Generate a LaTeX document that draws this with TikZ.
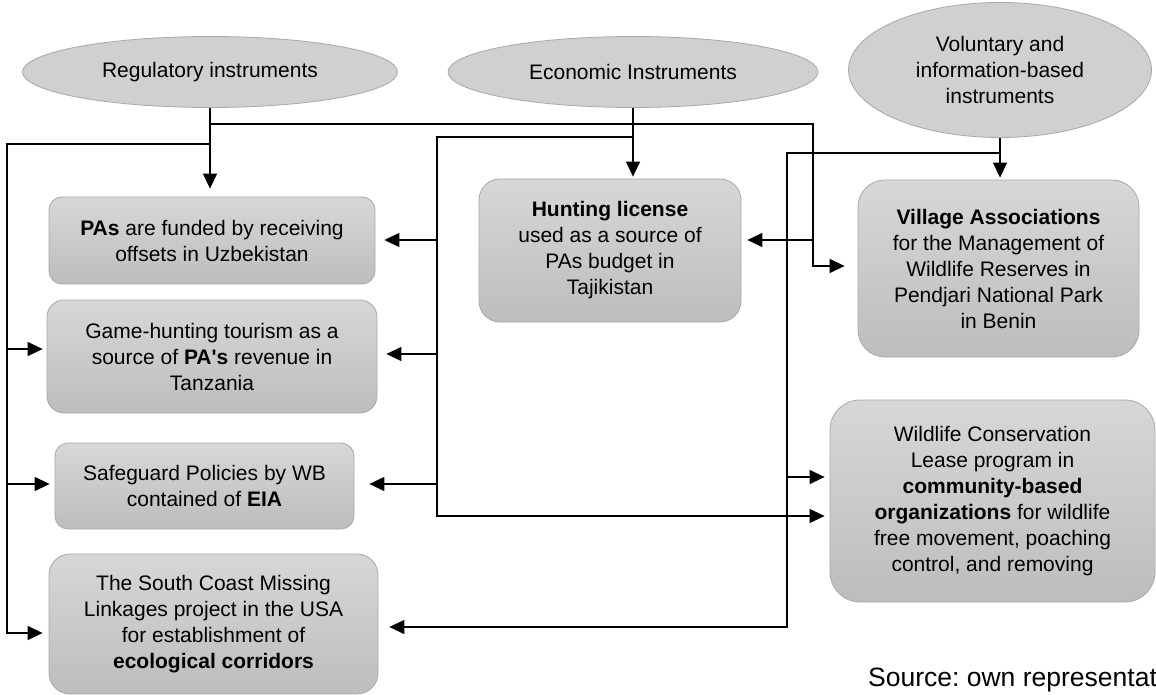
\documentclass[tikz,border=0pt]{standalone}
\usepackage{fontspec}
\setmainfont{Liberation Sans}
\usetikzlibrary{shapes.geometric,arrows.meta}
\definecolor{boxtop}{HTML}{D7D7D7}
\definecolor{boxbot}{HTML}{BDBDBD}
\definecolor{edgegray}{HTML}{A8A8A8}
\definecolor{ovalfill}{HTML}{D0D0D0}
\frenchspacing
% straight apostrophe glyph, bypassing the TeX quote mapping
\newcommand{\straightq}{\XeTeXglyph\XeTeXcharglyph"27\relax}
\begin{document}
\begin{tikzpicture}[x=1pt,y=-1pt,
  txt/.style={font=\fontsize{21}{26}\selectfont},
  oval/.style={ellipse, draw=edgegray, line width=0.8pt, fill=ovalfill, inner sep=0pt, align=center, txt},
  card/.style={draw=edgegray, line width=0.8pt, top color=boxtop, bottom color=boxbot, inner sep=0pt, align=center, txt},
  link/.style={line width=1.3pt},
  arr/.style={link, -{Triangle[length=15pt,width=14pt]}}]
\useasboundingbox (0,0) rectangle (1156,695);

% instrument categories
\node[oval, minimum width=375pt, minimum height=71pt] (reg) at (210,72) {Regulatory instruments};
\node[oval, minimum width=370pt, minimum height=71pt] (eco) at (633,72) {Economic Instruments};
\node[oval, minimum width=303pt, minimum height=135pt] (vol) at (1000,70) {Voluntary and\\information-based\\instruments};

% case examples
\node[card, rounded corners=13pt, minimum width=326pt, minimum height=87pt] (pas) at (212,240.5)
  {\textbf{PAs} are funded by receiving\\offsets in Uzbekistan};
\node[card, rounded corners=17pt, minimum width=330pt, minimum height=113pt] (game) at (212,356.5)
  {Game-hunting tourism as a\\source of \textbf{PA\straightq s} revenue in\\Tanzania};
\node[card, rounded corners=13pt, minimum width=299pt, minimum height=86pt] (safe) at (204.5,486)
  {Safeguard Policies by WB\\contained of \textbf{EIA}};
\node[card, rounded corners=21pt, minimum width=329pt, minimum height=140pt] (south) at (213.5,624)
  {The South Coast Missing\\Linkages project in the USA\\for establishment of\\\textbf{ecological corridors}};
\node[card, rounded corners=21pt, minimum width=262pt, minimum height=143pt] (hunt) at (610,250.5)
  {\textbf{Hunting license}\\used as a source of\\PAs budget in\\Tajikistan};
\node[card, rounded corners=27pt, minimum width=281pt, minimum height=177pt] (village) at (998.5,268.5)
  {\textbf{Village Associations}\\for the Management of\\Wildlife Reserves in\\Pendjari National Park\\in Benin};
\node[card, rounded corners=30pt, minimum width=325pt, minimum height=202pt] (wild) at (992.5,501)
  {Wildlife Conservation\\Lease program in\\\textbf{community-based}\\\textbf{organizations} for wildlife\\free movement, poaching\\control, and removing};

% regulatory links
\draw[arr, shorten >=8pt] (reg.south) -- (reg.south |- pas.north);
\coordinate (rj) at (210,124);
\coordinate (rk) at (813,124);
\coordinate (rv) at (813,266);
\draw[arr, shorten >=13pt] (rj) -- (rk) -- (rv) -- (rv -| village.west);
\coordinate (rh) at (813,240);
\draw[arr, shorten >=6pt] (rh) -- (rh -| hunt.east);
\coordinate (rl) at (210,144);
\coordinate (ll) at (7,144);
\coordinate (ls) at (7,633);
\draw[arr, shorten >=6pt] (rl) -- (ll) -- (ls) -- (ls -| south.west);
\coordinate (lg) at (7,349);
\draw[arr, shorten >=4pt] (lg) -- (lg -| game.west);
\coordinate (lf) at (7,484);
\draw[arr, shorten >=5pt] (lf) -- (lf -| safe.west);

% economic links
\draw[arr, shorten >=2pt] (eco.south) -- (eco.south |- hunt.north);
\coordinate (ej) at (633,137);
\coordinate (ek) at (437,137);
\coordinate (eb) at (437,516);
\draw[arr, shorten >=5pt] (ej) -- (ek) -- (eb) -- (eb -| wild.west);
\coordinate (ep) at (437,240);
\draw[arr, shorten >=9pt] (ep) -- (ep -| pas.east);
\coordinate (eg) at (437,354);
\draw[arr, shorten >=9pt] (eg) -- (eg -| game.east);
\coordinate (es) at (437,484);
\draw[arr, shorten >=15pt] (es) -- (es -| safe.east);

% voluntary links
\draw[arr, shorten >=2pt] (vol.south) -- (vol.south |- village.north);
\coordinate (vj) at (1000,153);
\coordinate (vk) at (787,153);
\coordinate (vb) at (787,627);
\draw[arr, shorten >=11pt] (vj) -- (vk) -- (vb) -- (vb -| south.east);
\coordinate (vw) at (787,477);
\draw[arr, shorten >=5pt] (vw) -- (vw -| wild.west);

\node[anchor=base west, inner sep=0pt, font=\fontsize{26.5}{31}\selectfont] (src) at (868,686) {Source: own representat};
\end{tikzpicture}
\end{document}
